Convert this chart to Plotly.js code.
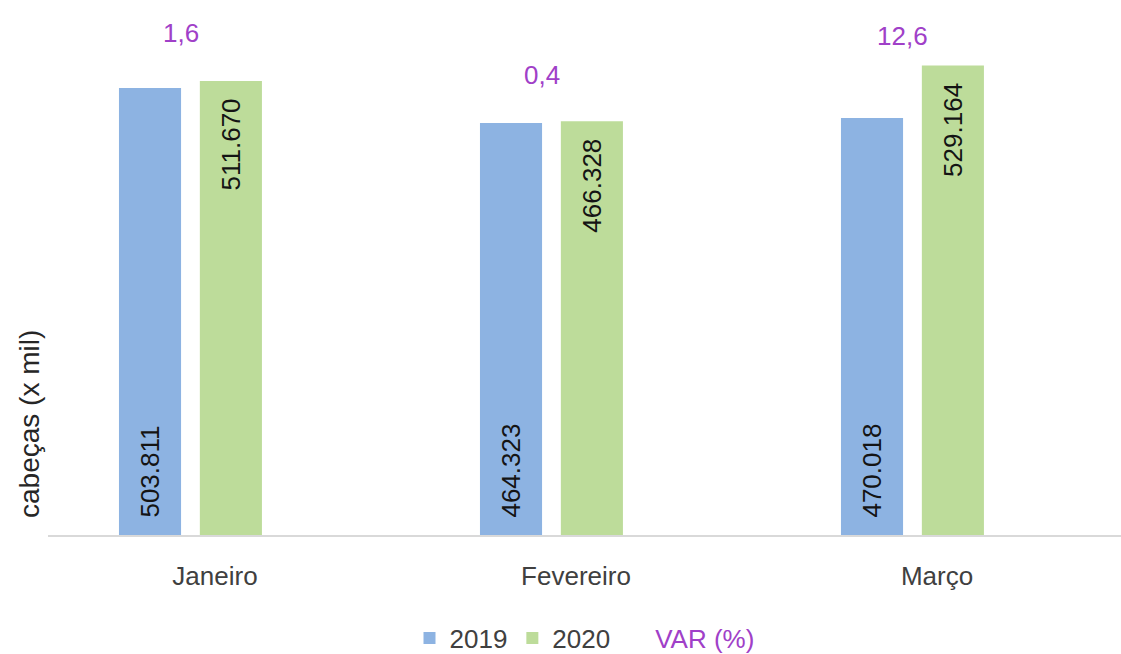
<!DOCTYPE html>
<html>
<head>
<meta charset="utf-8">
<script src="https://cdn.plot.ly/plotly-3.0.1.min.js"></script>
<style>html,body{margin:0;padding:0;background:#fff;}#chart{width:1121px;height:654px;}</style>
</head>
<body>
<div id="chart"></div>
<script>
// ---- data ----
const months = ['Janeiro', 'Fevereiro', 'Março'];
const values2019 = [503.811, 464.323, 470.018];
const values2020 = [511.670, 466.328, 529.164];
const varPct = [1.6, 0.4, 12.6];
const seriesNames = ['2019', '2020', 'VAR (%)'];
const yTitle = 'cabeças (x mil)';

// ---- style ----
const FONT = 'Liberation Sans, Arial, sans-serif';
const BLUE = '#8db3e2';
const GREEN = '#bddc9a';
const PURPLE = '#a040c8';
const varLabelLiftPx = [48, 46, 29];
const NB = '\u00a0\u00a0';

const fmtVal = v => v.toFixed(3);
const fmtPct = v => v.toFixed(1).replace('.', ',');

const traces = [
  {
    type: 'bar', name: seriesNames[0], x: months, y: values2019,
    width: 0.172, offset: -0.266,
    marker: {color: BLUE},
    text: values2019.map(v => NB + fmtVal(v)),
    textposition: 'inside', insidetextanchor: 'start', textangle: -90,
    textfont: {family: FONT, size: 26, color: '#141414'},
    hoverinfo: 'skip'
  },
  {
    type: 'bar', name: seriesNames[1], x: months, y: values2020,
    width: 0.172, offset: -0.042,
    marker: {color: GREEN},
    text: values2020.map(v => fmtVal(v) + NB),
    textposition: 'inside', insidetextanchor: 'end', textangle: -90,
    textfont: {family: FONT, size: 26, color: '#141414'},
    hoverinfo: 'skip'
  },
  {
    type: 'scatter', mode: 'lines', name: '<span style="color:' + PURPLE + '">' + seriesNames[2] + '</span>',
    x: [null], y: [null], line: {color: 'rgba(0,0,0,0)', width: 0},
    hoverinfo: 'skip'
  }
];

const annotations = months.map((m, i) => ({
  x: m, y: Math.max(values2019[i], values2020[i]), xref: 'x', yref: 'y',
  text: fmtPct(varPct[i]), showarrow: false,
  xshift: -34.5, yshift: varLabelLiftPx[i], yanchor: 'middle', xanchor: 'center',
  font: {family: FONT, size: 26, color: PURPLE}
}));
annotations.push({
  xref: 'paper', yref: 'paper', x: 0, y: 0.2155, xshift: -19,
  xanchor: 'center', yanchor: 'middle', textangle: -90, showarrow: false,
  text: yTitle, font: {family: FONT, size: 28, color: '#262626'}
});

const layout = {
  width: 1121, height: 654,
  margin: {l: 48, r: 0, t: 20, b: 119, autoexpand: false},
  paper_bgcolor: '#ffffff', plot_bgcolor: '#ffffff',
  font: {family: FONT, color: '#404040'},
  barmode: 'overlay',
  showlegend: true,
  xaxis: {
    type: 'category', categoryorder: 'array', categoryarray: months,
    range: [-0.4626, 2.5097], automargin: false,
    showline: true, linecolor: '#d9d9d9', linewidth: 2,
    ticks: 'outside', ticklen: 17, tickcolor: 'rgba(0,0,0,0)',
    tickfont: {family: FONT, size: 26, color: '#404040'},
    showgrid: false, zeroline: false, fixedrange: true
  },
  yaxis: {
    range: [0, 580.4], showgrid: false, zeroline: false, automargin: false,
    showticklabels: false, showline: false, ticks: '', fixedrange: true
  },
  legend: {
    orientation: 'h', x: 0.5, xanchor: 'center', y: -0.2, yanchor: 'middle',
    font: {family: FONT, size: 26, color: '#404040'}, traceorder: 'normal',
    bgcolor: 'rgba(0,0,0,0)'
  },
  annotations: annotations
};

Plotly.newPlot('chart', traces, layout, {displayModeBar: false, staticPlot: true});
</script>
</body>
</html>
